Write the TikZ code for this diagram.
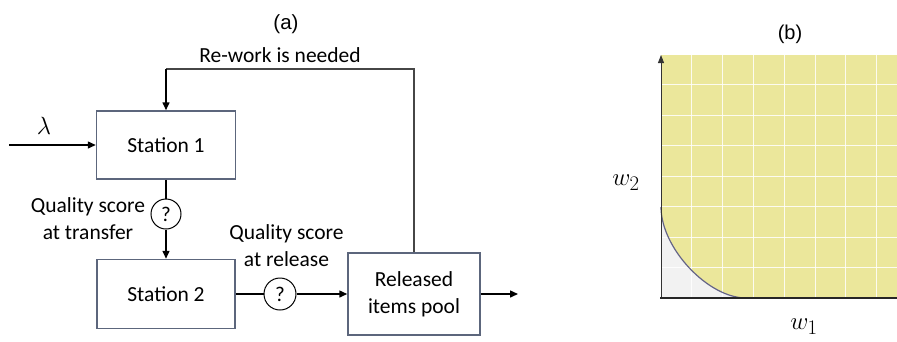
\documentclass[tikz,border=0pt]{standalone}
\usepackage[no-math]{fontspec}
\newfontfamily\calib{Carlito}
\newfontfamily\arialf{Liberation Sans}
\usetikzlibrary{arrows.meta}
\definecolor{boxc}{RGB}{92,102,124}
\definecolor{yel}{RGB}{235,231,155}
\definecolor{gryfill}{RGB}{242,242,242}
\definecolor{curvec}{RGB}{100,100,135}
\definecolor{fbc}{RGB}{70,70,70}
\begin{document}
\begin{tikzpicture}[x=1pt,y=-1pt,
  lbl/.style={font=\calib\fontsize{21.5}{27}\selectfont, align=center, inner sep=0pt},
  stbox/.style={draw=boxc, line width=1.5pt, font=\calib\fontsize{21.5}{27}\selectfont, align=center, inner sep=0pt},
  qc/.style={circle, draw=black, line width=1pt, inner sep=0pt, font=\calib\fontsize{21}{25}\selectfont},
  arr/.style={line width=1.5pt, -{Triangle[length=8pt,width=7pt]}},
  conn/.style={line width=1.5pt},
  gridl/.style={white, line width=1pt, opacity=0.85}]
\useasboundingbox (0,0) rectangle (897,341);
% ---------- panel (a)
\node[font=\arialf\fontsize{20.5}{24}\selectfont, inner sep=0pt] (ta) at (286,24) {(a)};
\node[lbl] (rw) at (280,55) {Re-work is needed};
\node[stbox, minimum width=139pt, minimum height=68pt] (s1) at (166,145) {Station 1};
\node[stbox, minimum width=138pt, minimum height=69pt] (s2) at (166,294) {Station 2};
\node[stbox, minimum width=132pt, minimum height=82pt] (rel) at (414,294) {Released\\items pool};
\node[qc, minimum size=30pt] (q1) at (166,214) {?};
\node[qc, minimum size=32pt] (q2) at (280,294) {?};
\node (lam) at (44,126) {\fontsize{23}{26}\selectfont$\lambda$};
\node[lbl] (qt) at (88,218.5) {Quality score\\at transfer};
\node[lbl] (qr) at (286.5,245.5) {Quality score\\at release};
\coordinate (in) at (9,145);
\coordinate (out) at (518,294);
\coordinate (c1) at (414,69);
\coordinate (c2) at (166,69);
\draw[arr] (in) -- (s1.west);
\draw[conn] (s1.south) -- (q1.north);
\draw[arr] (q1.south) -- (s2.north);
\draw[conn] (s2.east) -- (q2.west);
\draw[arr] (q2.east) -- (rel.west);
\draw[arr] (rel.east) -- (out);
\draw[conn, fbc] (rel.north) -- (c1) -- (c2);
\draw[arr] (c2) -- (s1.north);
% ---------- panel (b)
\node[font=\arialf\fontsize{20}{24}\selectfont, inner sep=0pt] (tb) at (790,34) {(b)};
\fill[yel] (661,55) rectangle (897,298);
\fill[gryfill] (661,207) .. controls (661,248) and (708,298) .. (746,298) -- (661,298) -- cycle;
\foreach \i in {1,...,7} {\draw[gridl] ({661+30.8*\i},55) -- ({661+30.8*\i},298);}
\foreach \j in {1,...,7} {\draw[gridl] (661,{298-30.5*\j}) -- (897,{298-30.5*\j});}
\draw[curvec, line width=1.2pt] (661,207) .. controls (661,248) and (708,298) .. (746,298);
\draw[black!80, line width=0.9pt, -{Triangle[length=8pt,width=6pt]}] (661,298) -- (661,55);
\draw[black!85, line width=2pt] (660,298) -- (897,298);
\node (w2) at (626,183) {\fontsize{28}{32}\selectfont$w_2$};
\node[inner sep=0pt] (w1) at (804,327) {\fontsize{28}{32}\selectfont$w_1$};
\end{tikzpicture}
\end{document}
